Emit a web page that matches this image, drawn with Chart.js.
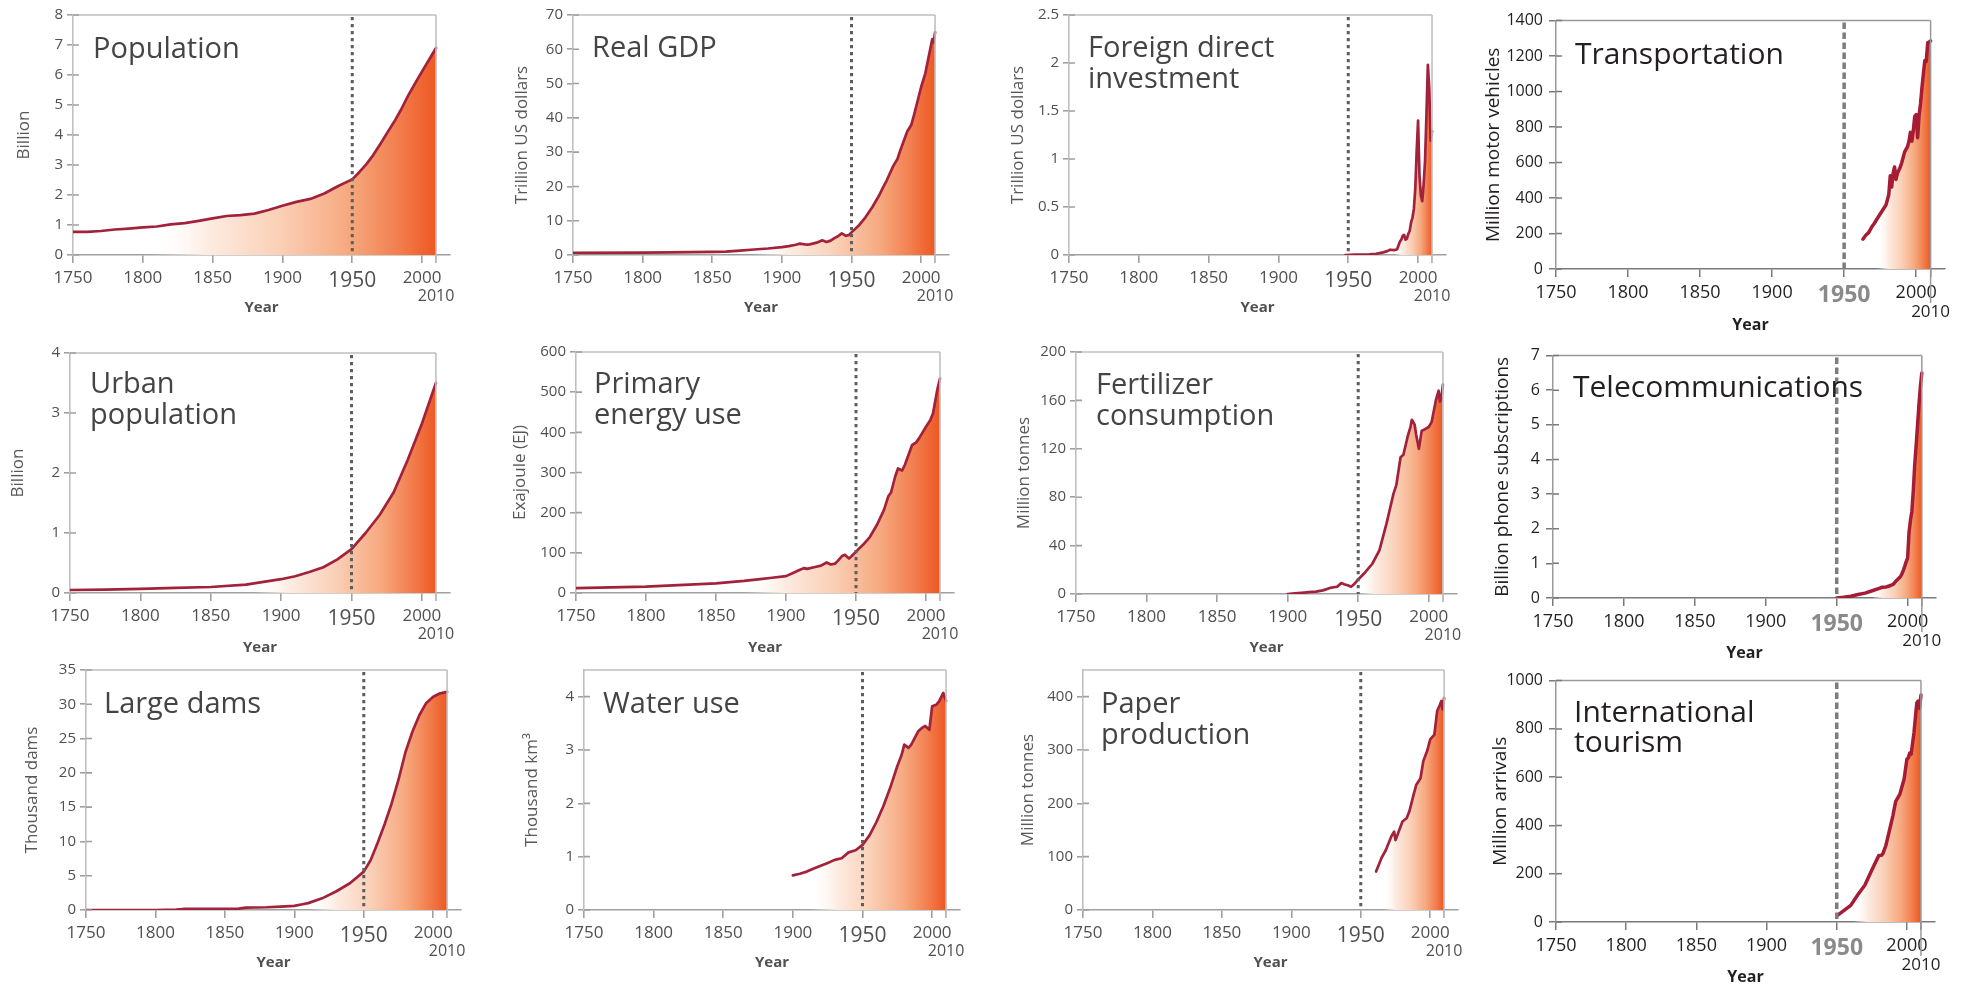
<!DOCTYPE html>
<html><head><meta charset="utf-8">
<script src="https://cdn.jsdelivr.net/npm/chart.js@4.4.1/dist/chart.umd.min.js"></script>
<style>
html,body{margin:0;padding:0;background:#fff;width:1966px;height:985px;overflow:hidden;}
canvas{position:absolute;}
</style></head><body>
<script>
// ---------- DATA ----------
const xTickYears = [1750,1800,1850,1900,1950,2000,2010];

const populationYears  = [1750,1760,1770,1780,1790,1800,1810,1820,1830,1840,1850,1860,1870,1880,1890,1900,1910,1920,1930,1940,1950,1955,1960,1965,1970,1975,1980,1985,1990,1995,2000,2005,2010];
const populationValues = [0.77,0.77,0.8,0.85,0.88,0.92,0.95,1.02,1.06,1.14,1.22,1.3,1.33,1.38,1.5,1.64,1.77,1.87,2.05,2.3,2.52,2.76,3.02,3.33,3.69,4.07,4.44,4.85,5.31,5.72,6.12,6.51,6.9];
const populationYTicks = [0,1,2,3,4,5,6,7,8];

const gdpYears  = [1750,1800,1820,1850,1860,1870,1880,1890,1900,1905,1910,1913,1918,1920,1925,1929,1932,1935,1938,1940,1943,1946,1948,1950,1955,1960,1965,1970,1973,1975,1980,1983,1985,1990,1993,1995,2000,2003,2005,2008,2009,2010];
const gdpValues = [0.6,0.7,0.75,0.9,1.0,1.3,1.6,1.9,2.3,2.6,3.0,3.3,3.0,3.1,3.6,4.3,3.8,4.2,5.0,5.4,6.3,5.6,5.8,6.6,8.5,11,14,17.5,20,21.5,26,28,30.5,36,38,41,49,53,57,63,62,65];
const gdpYTicks = [0,10,20,30,40,50,60,70];

const fdiYears  = [1948,1955,1960,1965,1970,1975,1978,1980,1983,1985,1987,1988,1989,1990,1991,1992,1993,1994,1995,1996,1997,1998,1999,2000,2001,2002,2003,2004,2005,2006,2007,2008,2009,2010];
const fdiValues = [0,0.003,0.005,0.008,0.013,0.027,0.04,0.055,0.05,0.06,0.14,0.16,0.2,0.21,0.16,0.17,0.22,0.25,0.34,0.39,0.48,0.69,1.08,1.40,0.83,0.62,0.56,0.74,0.98,1.46,1.98,1.74,1.19,1.29];
const fdiYTicks = [0,0.5,1,1.5,2,2.5];

const transportYears  = [1963,1965,1967,1969,1971,1973,1975,1977,1979,1981,1982,1983,1984,1985,1986,1987,1989,1990,1992,1994,1995,1996,1997,1998,1999,2000,2001,2002,2003,2004,2005,2006,2007,2008,2009,2010];
const transportValues = [168,190,205,235,258,285,310,335,360,420,525,462,540,575,505,540,575,600,660,690,720,770,720,780,860,870,740,865,930,1020,1100,1175,1170,1275,1280,1285];
const transportYTicks = [0,200,400,600,800,1000,1200,1400];

const urbanYears  = [1750,1775,1800,1825,1850,1875,1900,1910,1920,1930,1940,1950,1960,1970,1980,1990,2000,2010];
const urbanValues = [0.05,0.055,0.07,0.085,0.1,0.14,0.23,0.28,0.35,0.43,0.56,0.73,1.0,1.3,1.68,2.22,2.82,3.5];
const urbanYTicks = [0,1,2,3,4];

const energyYears  = [1750,1800,1850,1870,1880,1890,1900,1905,1910,1913,1915,1920,1925,1929,1932,1935,1937,1940,1942,1945,1947,1950,1955,1960,1965,1970,1973,1975,1978,1980,1983,1985,1990,1993,1995,2000,2003,2005,2008,2010];
const energyValues = [12,16,24,30,34,38,42,50,58,62,60,64,68,76,71,73,80,92,95,86,92,103,120,140,170,207,240,250,290,310,305,320,368,375,385,414,430,447,505,534];
const energyYTicks = [0,100,200,300,400,500,600];

const fertYears  = [1900,1905,1910,1915,1920,1925,1930,1935,1938,1940,1943,1945,1947,1950,1955,1960,1965,1970,1972,1975,1977,1980,1982,1985,1987,1988,1990,1991,1993,1995,1997,2000,2002,2005,2007,2008,2009,2010];
const fertValues = [0,0.5,1,1.5,2,3,5,6,9,8,7,6,8,12,18,25,36,58,68,83,90,113,115,130,138,144,140,132,120,135,136,138,142,160,168,159,162,173];
const fertYTicks = [0,40,80,120,160,200];

const telecomYears  = [1950,1955,1960,1965,1970,1975,1980,1982,1985,1988,1990,1992,1994,1995,1996,1997,1998,1999,2000,2001,2002,2003,2004,2005,2006,2007,2008,2009,2010];
const telecomValues = [0,0.02,0.05,0.1,0.14,0.21,0.28,0.31,0.32,0.36,0.4,0.5,0.58,0.62,0.7,0.8,0.92,1.05,1.15,1.9,2.25,2.5,3.1,3.85,4.4,5.0,5.6,6.1,6.5];
const telecomYTicks = [0,1,2,3,4,5,6,7];

const damsYears  = [1750,1800,1815,1820,1860,1865,1880,1890,1900,1905,1910,1920,1930,1940,1950,1955,1960,1965,1970,1975,1980,1985,1990,1995,2000,2005,2010];
const damsValues = [0,0,0.05,0.15,0.2,0.35,0.4,0.5,0.6,0.8,1.0,1.7,2.7,3.9,5.6,7.3,9.8,12.5,15.5,19,23,26,28.4,30.2,31.1,31.6,31.8];
const damsYTicks = [0,5,10,15,20,25,30,35];

const waterYears  = [1900,1905,1910,1915,1920,1925,1930,1935,1940,1945,1950,1955,1960,1965,1970,1975,1978,1980,1983,1985,1988,1990,1993,1995,1998,2000,2003,2005,2008,2010];
const waterValues = [0.65,0.68,0.72,0.78,0.83,0.88,0.94,0.97,1.08,1.12,1.22,1.4,1.65,1.95,2.3,2.7,2.9,3.1,3.04,3.1,3.25,3.35,3.42,3.45,3.38,3.82,3.85,3.91,4.07,3.92];
const waterYTicks = [0,1,2,3,4];

const paperYears  = [1961,1963,1965,1968,1970,1972,1974,1975,1977,1980,1983,1985,1988,1990,1993,1995,1998,2000,2003,2005,2007,2008,2009,2010];
const paperValues = [72,85,98,112,125,138,147,131,145,166,172,185,216,235,247,279,300,320,329,373,385,392,376,398];
const paperYTicks = [0,100,200,300,400];

const tourismYears  = [1950,1960,1965,1970,1975,1980,1982,1983,1985,1990,1992,1995,1998,2000,2001,2002,2003,2005,2007,2008,2009,2010];
const tourismValues = [25,69,113,152,215,276,277,285,317,440,500,530,592,675,680,700,695,783,907,915,885,940];
const tourismYTicks = [0,200,400,600,800,1000];

// ---------- STYLES ----------
const FONT = '"Open Sans", "Noto Sans", sans-serif';
Chart.defaults.font.family = FONT;

const SOFT = {
  titleSize:29, titleColor:'#444444', titleLH:31,
  yTitleSize:17, yTitleColor:'#585858',
  yTickSize:15, xTickSize:17, x1950Size:21, x1950Weight:'normal', x1950Color:'#505050', x2010Size:16,
  tickColor:'#505050', yearSize:15, yearColor:'#505050',
  frameColor:'#c0c0c0', axisColor:'#a0a0a0', tickMarkColor:'#a0a0a0', lineW:1.6,
  yTickLen:6, yTickPad:4, xTickLen:8, xTickPad:5,
  dotColor:'#5e5e5e', dotWidth:3, dash:[3.2,3.8],
  lineColor:'#a2223b', lineWidth:2.7, ext2010:8, blur:0.5
};
const CRISP = {
  titleSize:30, titleColor:'#231f20', titleLH:30,
  yTitleSize:19, yTitleColor:'#231f20',
  yTickSize:16, xTickSize:18, x1950Size:23, x1950Weight:'bold', x1950Color:'#8a8a8a', x2010Size:17,
  tickColor:'#231f20', yearSize:16, yearColor:'#231f20',
  frameColor:'#9a9a9a', axisColor:'#7a7a7a', tickMarkColor:'#7a7a7a', lineW:1.5,
  yTickLen:7, yTickPad:6, xTickLen:8, xTickPad:5,
  dotColor:'#7d7d7d', dotWidth:3.5, dash:[6.5,3.5],
  lineColor:'#a51c34', lineWidth:3.5, ext2010:34, blur:0
};

// Panel layout (positions are layout, not data)
const panels = [
  {years:populationYears, values:populationValues, yTicks:populationYTicks, yMax:8, title:['Population'], yTitle:'Billion',
   L:73,R:436,T:15,B:255, yTitleX:24, yearY:308, titleX:93, titleY:58, grad:1805, S:SOFT},
  {years:gdpYears, values:gdpValues, yTicks:gdpYTicks, yMax:70, title:['Real GDP'], yTitle:'Trillion US dollars',
   L:573,R:935,T:15,B:255, yTitleX:522, yearY:308, titleX:592, titleY:57, grad:1880, S:SOFT},
  {years:fdiYears, values:fdiValues, yTicks:fdiYTicks, yMax:2.5, title:['Foreign direct','investment'], yTitle:'Trillion US dollars',
   L:1069,R:1432,T:15,B:255, yTitleX:1018, yearY:308, titleX:1088, titleY:57, grad:1983, S:SOFT},
  {years:transportYears, values:transportValues, yTicks:transportYTicks, yMax:1400, title:['Transportation'], yTitle:'Million motor vehicles',
   L:1556,R:1931,T:19,B:269, yTitleX:1493, yearY:325, titleX:1575, titleY:64, grad:1973, S:CRISP},
  {years:urbanYears, values:urbanValues, yTicks:urbanYTicks, yMax:4, title:['Urban','population'], yTitle:'Billion',
   L:70,R:436,T:353,B:593, yTitleX:18, yearY:648, titleX:90, titleY:393, grad:1880, S:SOFT},
  {years:energyYears, values:energyValues, yTicks:energyYTicks, yMax:600, title:['Primary','energy use'], yTitle:'Exajoule (EJ)',
   L:576,R:940,T:352,B:593, yTitleX:520, yearY:648, titleX:594, titleY:393, grad:1870, S:SOFT},
  {years:fertYears, values:fertValues, yTicks:fertYTicks, yMax:200, title:['Fertilizer','consumption'], yTitle:'Million tonnes',
   L:1076,R:1443,T:352,B:594, yTitleX:1024, yearY:648, titleX:1096, titleY:394, grad:1950, S:SOFT},
  {years:telecomYears, values:telecomValues, yTicks:telecomYTicks, yMax:7, title:['Telecommunications'], yTitle:'Billion phone subscriptions',
   L:1553,R:1922,T:354,B:598, yTitleX:1502, yearY:653, titleX:1573, titleY:397, grad:1975, S:CRISP},
  {years:damsYears, values:damsValues, yTicks:damsYTicks, yMax:35, title:['Large dams'], yTitle:'Thousand dams',
   L:86,R:447,T:670,B:910, yTitleX:32, yearY:963, titleX:104, titleY:713, grad:1910, S:SOFT},
  {years:waterYears, values:waterValues, yTicks:waterYTicks, yMax:4.5, title:['Water use'], yTitle:'Thousand km\u00B3',
   L:584,R:946,T:670,B:910, yTitleX:532, yearY:963, titleX:603, titleY:713, grad:1912, S:SOFT},
  {years:paperYears, values:paperValues, yTicks:paperYTicks, yMax:450, title:['Paper','production'], yTitle:'Million tonnes',
   L:1083,R:1444,T:670,B:910, yTitleX:1028, yearY:963, titleX:1101, titleY:713, grad:1966, S:SOFT},
  {years:tourismYears, values:tourismValues, yTicks:tourismYTicks, yMax:1000, title:['International','tourism'], yTitle:'Million arrivals',
   L:1556,R:1921,T:679,B:922, yTitleX:1500, yearY:977, titleX:1574, titleY:722, grad:1962, S:CRISP}
];

function makeDecor(p, S, cl, ct) {
  return {
    id: 'decor',
    afterDatasetsDraw(chart) {
      const {ctx, chartArea:a, scales:{x, y}} = chart;
      const x1750 = x.getPixelForValue(1750), x1950 = x.getPixelForValue(1950), x2010 = x.getPixelForValue(2010);
      ctx.save();
      ctx.lineCap = 'butt';
      // top frame + 2010 line
      ctx.strokeStyle = S.frameColor; ctx.lineWidth = S.lineW;
      ctx.beginPath();
      ctx.moveTo(x1750, a.top); ctx.lineTo(x2010, a.top);
      ctx.moveTo(x2010, a.top); ctx.lineTo(x2010, a.bottom + S.ext2010);
      ctx.stroke();
      // inward y tick marks
      ctx.strokeStyle = S.tickMarkColor;
      ctx.beginPath();
      y.ticks.forEach(t => { const py = y.getPixelForValue(t.value); ctx.moveTo(x1750, py); ctx.lineTo(x1750 + 6, py); });
      ctx.stroke();
      // dotted 1950 line
      ctx.setLineDash(S.dash); ctx.strokeStyle = S.dotColor; ctx.lineWidth = S.dotWidth;
      ctx.beginPath(); ctx.moveTo(x1950, a.top + 2); ctx.lineTo(x1950, a.bottom); ctx.stroke();
      ctx.setLineDash([]);
      // panel title
      ctx.fillStyle = S.titleColor;
      ctx.font = S.titleSize + 'px ' + FONT;
      ctx.textAlign = 'left'; ctx.textBaseline = 'alphabetic';
      p.title.forEach((line, i) => ctx.fillText(line, p.titleX - cl, p.titleY - ct + i * S.titleLH));
      ctx.restore();
    }
  };
}

function makeChart(p) {
  const S = p.S;
  const pxPerYear = (p.R - p.L) / 260;
  const r2020 = p.R + 10 * pxPerYear;
  const yTitleLH = S.yTitleSize * 1.2, yearLH = S.yearSize * 1.2;
  const padTop = 14, padRight = 30;
  const cl = Math.round(p.yTitleX - yTitleLH / 2);
  const ct = Math.round(p.T) - padTop;
  const cw = Math.round(r2020 - cl + padRight);
  const cb = Math.round(p.yearY + yearLH / 2);
  const ch = cb - ct;
  const yW = p.L - cl;
  const xH = cb - p.B;

  const canvas = document.createElement('canvas');
  canvas.width = cw; canvas.height = ch;
  canvas.style.left = cl + 'px'; canvas.style.top = ct + 'px';
  canvas.style.width = cw + 'px'; canvas.style.height = ch + 'px';
  if (S.blur) canvas.style.filter = 'blur(' + S.blur + 'px)';
  document.body.appendChild(canvas);

  const points = p.years.map((yr, i) => ({x: yr, y: p.values[i]}));

  const gradFn = (c) => {
    const chart = c.chart;
    if (!chart.chartArea) return 'rgba(0,0,0,0)';
    const xs = chart.scales.x;
    const g = chart.ctx.createLinearGradient(xs.getPixelForValue(p.grad), 0, xs.getPixelForValue(2010), 0);
    g.addColorStop(0, 'rgba(255,255,255,0)');
    g.addColorStop(0.2, 'rgb(253,236,226)');
    g.addColorStop(0.45, 'rgb(250,208,183)');
    g.addColorStop(0.7, 'rgb(246,168,126)');
    g.addColorStop(0.86, 'rgb(242,128,80)');
    g.addColorStop(1, 'rgb(237,88,34)');
    return g;
  };

  new Chart(canvas, {
    type: 'line',
    data: {datasets: [{
      data: points, borderColor: S.lineColor, borderWidth: S.lineWidth, pointRadius: 0,
      fill: 'origin', backgroundColor: gradFn, tension: 0, borderJoinStyle: 'round', borderCapStyle: 'round'
    }]},
    options: {
      responsive: false, animation: false, devicePixelRatio: 1,
      layout: {padding: {left: 0, top: padTop, right: padRight, bottom: 0}},
      plugins: {legend: {display: false}, tooltip: {enabled: false}},
      scales: {
        x: {
          type: 'linear', min: 1750, max: 2020,
          afterBuildTicks: s => { s.ticks = xTickYears.map(v => ({value: v})); },
          afterFit: s => { s.height = xH; },
          ticks: {
            autoSkip: false, maxRotation: 0, minRotation: 0, padding: S.xTickPad,
            font: c => {
              const v = c.tick ? c.tick.value : null;
              if (v === 1950) return {size: S.x1950Size, weight: S.x1950Weight};
              if (v === 2010) return {size: S.x2010Size};
              return {size: S.xTickSize};
            },
            color: c => (c.tick && c.tick.value === 1950) ? S.x1950Color : S.tickColor,
            callback: v => v === 2010 ? ['', '2010'] : String(v)
          },
          grid: {drawOnChartArea: false, drawTicks: true, tickLength: S.xTickLen, color: S.tickMarkColor, lineWidth: S.lineW},
          border: {display: true, color: S.axisColor, width: S.lineW},
          title: {display: true, text: 'Year', color: S.yearColor, padding: 0, font: {size: S.yearSize, weight: 'bold'}}
        },
        y: {
          type: 'linear', min: 0, max: p.yMax,
          afterBuildTicks: s => { s.ticks = p.yTicks.map(v => ({value: v})); },
          afterFit: s => { s.width = yW; },
          ticks: {padding: S.yTickPad, color: S.tickColor, font: {size: S.yTickSize}, callback: v => String(v)},
          grid: {drawOnChartArea: false, drawTicks: true, tickLength: S.yTickLen, color: S.tickMarkColor, lineWidth: S.lineW},
          border: {display: true, color: S.frameColor, width: S.lineW},
          title: {display: true, text: p.yTitle, color: S.yTitleColor, padding: 0, font: {size: S.yTitleSize}}
        }
      }
    },
    plugins: [makeDecor(p, S, cl, ct)]
  });
}

panels.forEach(makeChart);
</script>
</body></html>
